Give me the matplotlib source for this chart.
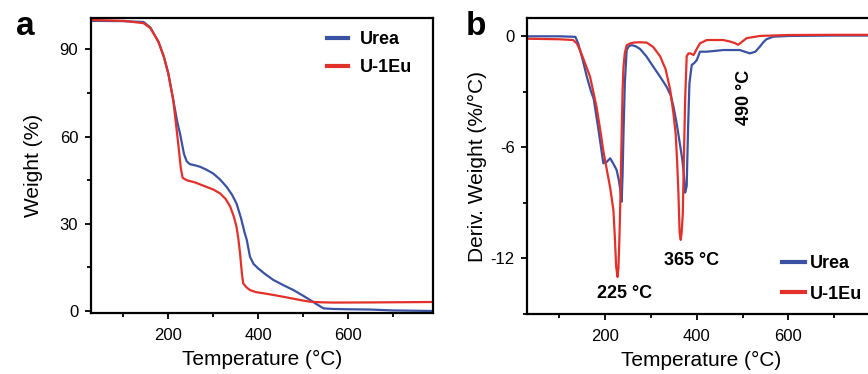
import matplotlib
matplotlib.use("Agg")
import matplotlib.pyplot as plt
from matplotlib.ticker import MultipleLocator

plt.rcParams['font.family'] = ['Liberation Sans', 'DejaVu Sans']
plt.rcParams['axes.unicode_minus'] = False

# ---- Panel a: TGA ----
tga_urea_T = [30, 100, 145, 160, 178, 190, 200, 211, 220, 226, 235, 241, 248, 260, 271, 285, 300, 315,
              330, 342, 352, 362, 370, 375, 382, 390, 400, 415, 434, 455, 479, 500, 516, 530, 546,
              568, 600, 650, 700, 790]
tga_urea_W = [99.8, 99.7, 99.4, 97.5, 92.6, 87.5, 81.7, 72.6, 65, 61.1, 54, 51.5, 50.5, 50.1, 49.6, 48.6,
              47.3, 45.3, 42.7, 40, 37, 32, 27, 24.4, 18.7, 16.2, 14.7, 12.8, 10.7, 9, 7.2, 5.3, 3.8,
              2.4, 0.9, 0.7, 0.6, 0.5, 0.2, 0.0]
tga_eu_T = [30, 100, 145, 160, 178, 190, 200, 211, 222, 228, 232, 241, 260, 285, 300, 315, 328, 338,
            346, 352, 356, 360, 364, 367, 374, 382, 395, 412, 435, 456, 480, 500, 516, 540, 568,
            650, 700, 790]
tga_eu_W = [100.1, 99.8, 99.0, 97.3, 92.6, 87.5, 81.7, 72.6, 57.7, 49, 45.8, 45, 44.2, 42.7, 41.8, 40.5,
            38.5, 35.9, 32.5, 29, 25, 19.8, 13, 9.5, 8.2, 7.2, 6.5, 6.1, 5.5, 4.9, 4.2, 3.6, 3.2,
            3.0, 2.9, 2.95, 3.0, 3.1]

# ---- Panel b: DTG ----
dtg_urea_T = [30, 100, 135, 141, 150, 160, 168, 175, 185, 196, 203, 211, 218, 225, 230, 233, 236, 238,
              240, 243, 247, 252, 258, 266, 276, 290, 305, 320, 334, 343, 349, 356, 363, 368, 371,
              374.6, 378, 381, 384, 389, 395, 400, 407, 422, 458, 494, 505, 516, 528, 538, 545, 552,
              567, 600, 700, 790]
dtg_urea_D = [-0.02, -0.02, -0.05, -0.4, -1.2, -2.2, -2.9, -3.4, -5.0, -6.87, -6.8, -6.6, -6.9, -7.23,
              -7.8, -8.3, -8.94, -7.5, -5.25, -2.5, -0.75, -0.55, -0.5, -0.55, -0.7, -1.1, -1.66, -2.2,
              -2.74, -3.2, -3.8, -4.7, -5.8, -6.6, -7.23, -8.45, -8.1, -5, -2.55, -1.57, -1.45, -1.3,
              -0.85, -0.85, -0.76, -0.76, -0.85, -0.94, -0.85, -0.57, -0.35, -0.18, -0.04, 0.0, 0.02, 0.02]
dtg_eu_T = [30, 100, 130, 138, 145, 155, 167, 181, 190, 196, 205, 211, 218, 221, 224, 227, 229, 231,
            233.5, 236, 238, 240, 243, 247, 255, 262, 275, 291, 305, 320, 332, 342, 349, 354, 357,
            360, 362.5, 365, 367, 369.5, 372, 374.6, 378, 382, 387, 393, 400, 407, 422, 458, 472,
            483, 490, 497, 509, 538, 600, 700, 790]
dtg_eu_D = [-0.15, -0.18, -0.22, -0.4, -0.76, -1.4, -2.2, -3.8, -5.2, -6.2, -7.4, -8.2, -9.4, -10.8,
            -12.45, -13.0, -12.5, -11.0, -8.5, -5.25, -3.0, -1.66, -0.9, -0.5, -0.4, -0.36, -0.34,
            -0.36, -0.6, -1.1, -1.8, -2.9, -4.17, -5.3, -6.7, -8.5, -10.6, -11.0, -10.6, -9.6, -6.5,
            -3.45, -1.1, -0.94, -0.95, -1.03, -0.7, -0.4, -0.22, -0.22, -0.3, -0.38, -0.48, -0.35,
            -0.12, 0.0, 0.05, 0.06, 0.06]

series_labels = ["Urea", "U-1Eu"]
blue = "#3b52a3"
red = "#e2302a"

fig = plt.figure(figsize=(8.68, 3.74), dpi=100)
axa = fig.add_axes([0.1045, 0.163, 0.3943, 0.789])
axb = fig.add_axes([0.6075, 0.1604, 0.4010, 0.7906])

for ax in (axa, axb):
    for s in ax.spines.values():
        s.set_linewidth(1.6)
    ax.tick_params(which='major', direction='out', length=4, width=1.3, labelsize=12)
    ax.tick_params(which='minor', direction='out', length=3, width=1.3)
    ax.tick_params(axis='x', pad=7)
    ax.tick_params(axis='y', pad=5)
    ax.xaxis.set_major_locator(MultipleLocator(200))
    ax.xaxis.set_minor_locator(MultipleLocator(100))

# Panel a
axa.plot(tga_urea_T, tga_urea_W, color=blue, lw=1.6, label=series_labels[0])
axa.plot(tga_eu_T, tga_eu_W, color=red, lw=1.6, label=series_labels[1])
axa.set_xlim(27, 790)
axa.set_ylim(-0.7, 100.8)
axa.yaxis.set_major_locator(MultipleLocator(30))
axa.yaxis.set_minor_locator(MultipleLocator(15))
axa.set_xlabel("Temperature (°C)", fontsize=15, labelpad=5)
axa.set_ylabel("Weight (%)", fontsize=15, labelpad=12)
axa.legend(loc='upper left', bbox_to_anchor=(327 / 868, 1 - 31 / 374), bbox_transform=fig.transFigure,
           frameon=False, borderaxespad=0, borderpad=0, handlelength=1.15, handletextpad=0.65,
           labelspacing=0.6, prop={'size': 13, 'weight': 'bold'})
for line in axa.get_legend().get_lines():
    line.set_linewidth(3)

# Panel b
axb.plot(dtg_urea_T, dtg_urea_D, color=blue, lw=1.6, label=series_labels[0])
axb.plot(dtg_eu_T, dtg_eu_D, color=red, lw=1.6, label=series_labels[1])
axb.set_xlim(30, 790)
axb.set_ylim(-15.0, 0.95)
axb.yaxis.set_major_locator(MultipleLocator(6))
axb.yaxis.set_minor_locator(MultipleLocator(3))
axb.set_xlabel("Temperature (°C)", fontsize=15, labelpad=5)
axb.set_ylabel("Deriv. Weight (%/°C)", fontsize=15, labelpad=3)
axb.legend(loc='upper left', bbox_to_anchor=(782 / 868, 1 - 255 / 374), bbox_transform=fig.transFigure,
           frameon=False, borderaxespad=0, borderpad=0, handlelength=1.3, handletextpad=0.25,
           labelspacing=0.75, prop={'size': 13, 'weight': 'bold'})
for line in axb.get_legend().get_lines():
    line.set_linewidth(3)

axb.text(243, -13.87, "225 °C", fontsize=13, fontweight='bold', ha='center', va='center')
axb.text(389, -12.09, "365 °C", fontsize=13, fontweight='bold', ha='center', va='center')
axb.text(505, -3.3, "490 °C", fontsize=13, fontweight='bold', ha='center', va='center', rotation=90)

fig.text(25 / 868, 1 - 35 / 374, "a", fontsize=24, fontweight='bold', ha='center', va='baseline')
fig.text(476 / 868, 1 - 35 / 374, "b", fontsize=24, fontweight='bold', ha='center', va='baseline')

fig.savefig("out.png", dpi=100)
